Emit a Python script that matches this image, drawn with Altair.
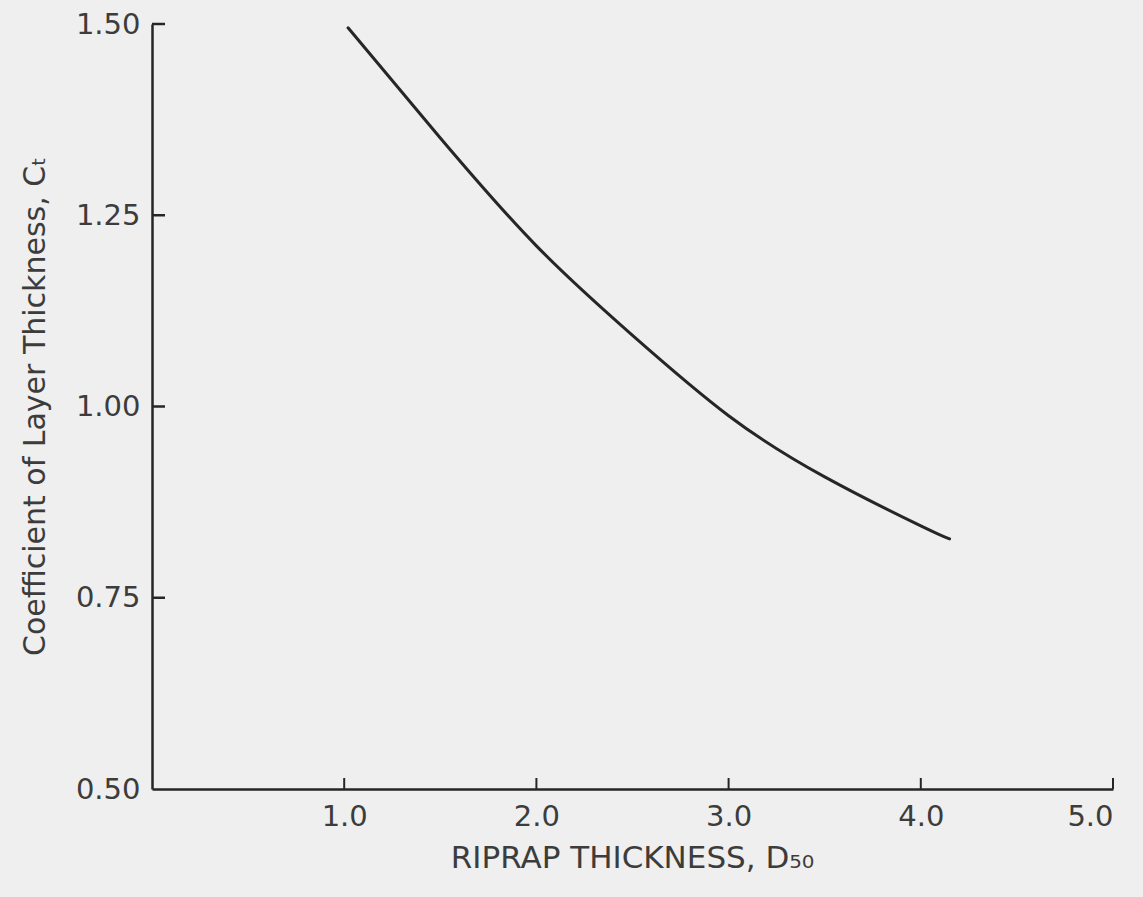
import altair as alt
import pandas as pd

# Riprap layer-thickness coefficient curve
d50 = [1.02, 1.5, 2.0, 2.5, 3.0, 3.5, 4.0, 4.15]
ct = [1.495, 1.351, 1.210, 1.093, 0.988, 0.908, 0.844, 0.827]

x_ticks = [1.0, 2.0, 3.0, 4.0, 5.0]
y_ticks = [0.75, 1.00, 1.25, 1.50]

INK = "#262626"
TEXT = "#3c3c3c"
FONT = "DejaVu Sans"

curve = pd.DataFrame({"d50": d50, "ct": ct})
xt = pd.DataFrame({"v": x_ticks})
yt = pd.DataFrame({"v": y_ticks})

x_scale = alt.Scale(domain=[0, 5], nice=False, zero=False)
y_scale = alt.Scale(domain=[0.5, 1.5], nice=False, zero=False)

line = alt.Chart(curve).mark_line(
    color=INK, strokeWidth=3, interpolate="natural", strokeCap="round"
).encode(
    x=alt.X("d50:Q", scale=x_scale, axis=alt.Axis(
        title="RIPRAP THICKNESS, D₅₀",
        values=x_ticks, format=".1f",
        ticks=False, tickSize=0, labelPadding=13,
        labelFontSize=29, labelColor=TEXT, labelFont=FONT,
        domainColor=INK, domainWidth=2.5, grid=False,
        titleFontSize=31, titleFont=FONT, titleFontWeight="normal",
        titleColor=TEXT, titleX=480, titleY=69, titleBaseline="middle",
        titleAlign="center",
    )),
    y=alt.Y("ct:Q", scale=y_scale, axis=alt.Axis(
        title="Coefficient of Layer Thickness, Cₜ",
        values=[0.5, 0.75, 1.0, 1.25, 1.5], format=".2f",
        ticks=False, tickSize=0, labelPadding=12,
        labelFontSize=29, labelColor=TEXT, labelFont=FONT,
        labelBaseline="middle",
        domainColor=INK, domainWidth=2.5, grid=False,
        titleFontSize=30, titleFont=FONT, titleFontWeight="normal",
        titleColor=TEXT, titleX=-117, titleY=382, titleAngle=270,
        titleBaseline="middle", titleAlign="center",
    )),
)

# inward tick marks on both axes
y_tick_marks = alt.Chart(yt).mark_rule(color=INK, strokeWidth=2.5).encode(
    y=alt.Y("v:Q", scale=y_scale),
    x=alt.value(0),
    x2=alt.value(13),
)
x_tick_marks = alt.Chart(xt).mark_rule(color=INK, strokeWidth=2).encode(
    x=alt.X("v:Q", scale=x_scale),
    y=alt.value(765),
    y2=alt.value(754),
)

chart = alt.layer(line, y_tick_marks, x_tick_marks).properties(
    width=961,
    height=765,
    background="#efefef",
    autosize=alt.AutoSizeParams(type="none"),
    padding={"left": 152, "top": 24, "right": 30, "bottom": 108},
).configure_view(stroke=None)

chart.save("out.html", embed_options={"renderer": "svg", "actions": False})
